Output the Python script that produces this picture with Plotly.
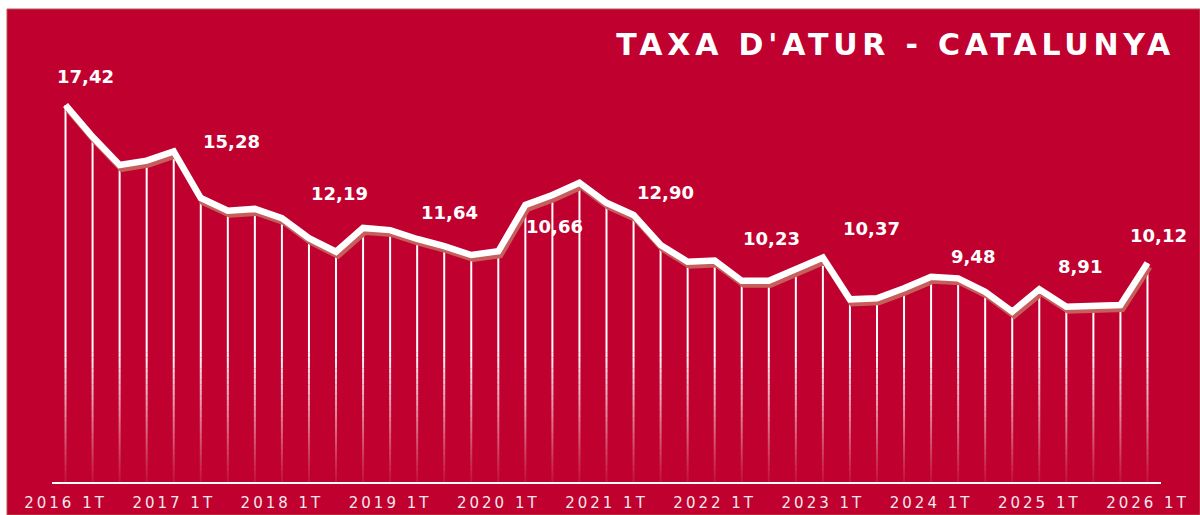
import plotly.graph_objects as go

# Taxa d'atur - Catalunya (quarterly, %)
years = list(range(2016, 2027))
quarters = [f"{y} {q}T" for y in years for q in range(1, 5)][:41]

rate = [
    17.42, 15.95, 14.65, 14.85,
    15.28, 13.12, 12.54, 12.62,
    12.19, 11.27, 10.64, 11.74,
    11.64, 11.23, 10.90, 10.49,
    10.66, 12.80, 13.26, 13.83,
    12.90, 12.34, 10.95, 10.18,
    10.23, 9.30, 9.30, 9.87,
    10.37, 8.44, 8.49, 8.95,
    9.48, 9.41, 8.79, 7.87,
    8.91, 8.10, 8.13, 8.18,
    10.12,
]

tick_quarters = quarters[::4]
label_idx = list(range(0, 41, 4))
# pixel offsets of the value labels (style only)
label_shift = [(20, 29), (58, 10), (58, 25), (59, 18), (56, 25), (59, 10),
               (57, 22), (49, 29), (42, 20), (41, 23), (11, 27)]

RED = "#C0002F"
W, H = 1200, 515
ML, MR, MT, MB = 52, 39, 60, 33
YMAX = 19.5
plot_w = W - ML - MR
plot_h = H - MT - MB
px_x = plot_w / 41.0
px_y = plot_h / YMAX

fig = go.Figure()

# drop lines: solid upper part
FADE_TOP = 6.0
xs, ys = [], []
for q, v in zip(quarters, rate):
    xs += [q, q, None]
    ys += [FADE_TOP, v, None]
fig.add_trace(go.Scatter(x=xs, y=ys, mode="lines", hoverinfo="skip",
                         line=dict(color="white", width=2), showlegend=False))

# drop lines: fading lower part
steps = 24
for k in range(steps):
    y0 = FADE_TOP * k / steps
    y1 = FADE_TOP * (k + 1) / steps
    a = 0.07 + 0.93 * ((k + 0.5) / steps) ** 1.1
    xs, ys = [], []
    for q in quarters:
        xs += [q, q, None]
        ys += [y0, y1, None]
    fig.add_trace(go.Scatter(x=xs, y=ys, mode="lines", hoverinfo="skip",
                             line=dict(color=f"rgba(255,255,255,{a:.3f})", width=2),
                             showlegend=False))

# shadow of the main line (same data on shifted overlay axes)
fig.add_trace(go.Scatter(x=quarters, y=rate, mode="lines", xaxis="x2", yaxis="y2",
                         line=dict(color="#C65E5C", width=6),
                         hoverinfo="skip", showlegend=False))

# main line (own overlay so it sits above the shadow)
fig.add_trace(go.Scatter(x=quarters, y=rate, mode="lines", xaxis="x3", yaxis="y3",
                         line=dict(color="white", width=6.5),
                         name="Taxa d'atur", showlegend=False))

annotations = []
for i, (dx, dy) in zip(label_idx, label_shift):
    annotations.append(dict(
        x=quarters[i], y=rate[i], xref="x", yref="y",
        text=f"{rate[i]:.2f}".replace(".", ","),
        showarrow=False, xshift=dx, yshift=dy,
        font=dict(family="DejaVu Sans", size=18, color="white", weight="bold"),
    ))

shift_x = 2 / px_x
shift_y = 4 / px_y

fig.update_layout(
    width=W, height=H,
    margin=dict(l=ML, r=MR, t=MT, b=MB, autoexpand=False),
    paper_bgcolor="white",
    plot_bgcolor="rgba(0,0,0,0)",
    title=dict(text="<b>TAXA D'ATUR - CATALUNYA</b>", xref="container", yref="container",
               x=1175 / W, xanchor="right", y=1 - 44 / H, yanchor="middle",
               font=dict(family="DejaVu Sans", size=30, color="white")),
    xaxis=dict(type="category", range=[-0.5, 40.5], showgrid=False, zeroline=False,
               showline=True, linecolor="white", linewidth=2, automargin=False,
               tickvals=tick_quarters, ticktext=tick_quarters, ticks="",
               tickfont=dict(family="DejaVu Sans", size=15, color="#F6E8EC"),
               ticklabelstandoff=6),
    yaxis=dict(range=[0, YMAX], visible=False, showgrid=False, zeroline=False),
    xaxis2=dict(type="category", overlaying="x", visible=False,
                range=[-0.5 - shift_x, 40.5 - shift_x]),
    yaxis2=dict(overlaying="y", visible=False, range=[shift_y, YMAX + shift_y]),
    xaxis3=dict(type="category", overlaying="x", visible=False, range=[-0.5, 40.5]),
    yaxis3=dict(overlaying="y", visible=False, range=[0, YMAX]),
    annotations=annotations,
    shapes=[dict(type="rect", xref="paper", yref="paper", layer="below",
                 x0=(7 - ML) / plot_w, x1=(W - ML) / plot_w,
                 y0=(H - MB - H) / plot_h, y1=(H - MB - 9) / plot_h,
                 fillcolor=RED, line=dict(color="#B8544E", width=1))],
    showlegend=False,
)

post = """
document.body.style.margin = '0';
var gd = document.getElementById('{plot_id}');
function sp(){
  gd.querySelectorAll('.gtitle').forEach(function(t){t.style.letterSpacing='4.8px';});
  gd.querySelectorAll('.xtick text').forEach(function(t){t.style.letterSpacing='3px';});
}
sp();
gd.on('plotly_afterplot', sp);
"""

fig.write_html("out.html", post_script=post, config={"displayModeBar": False})
